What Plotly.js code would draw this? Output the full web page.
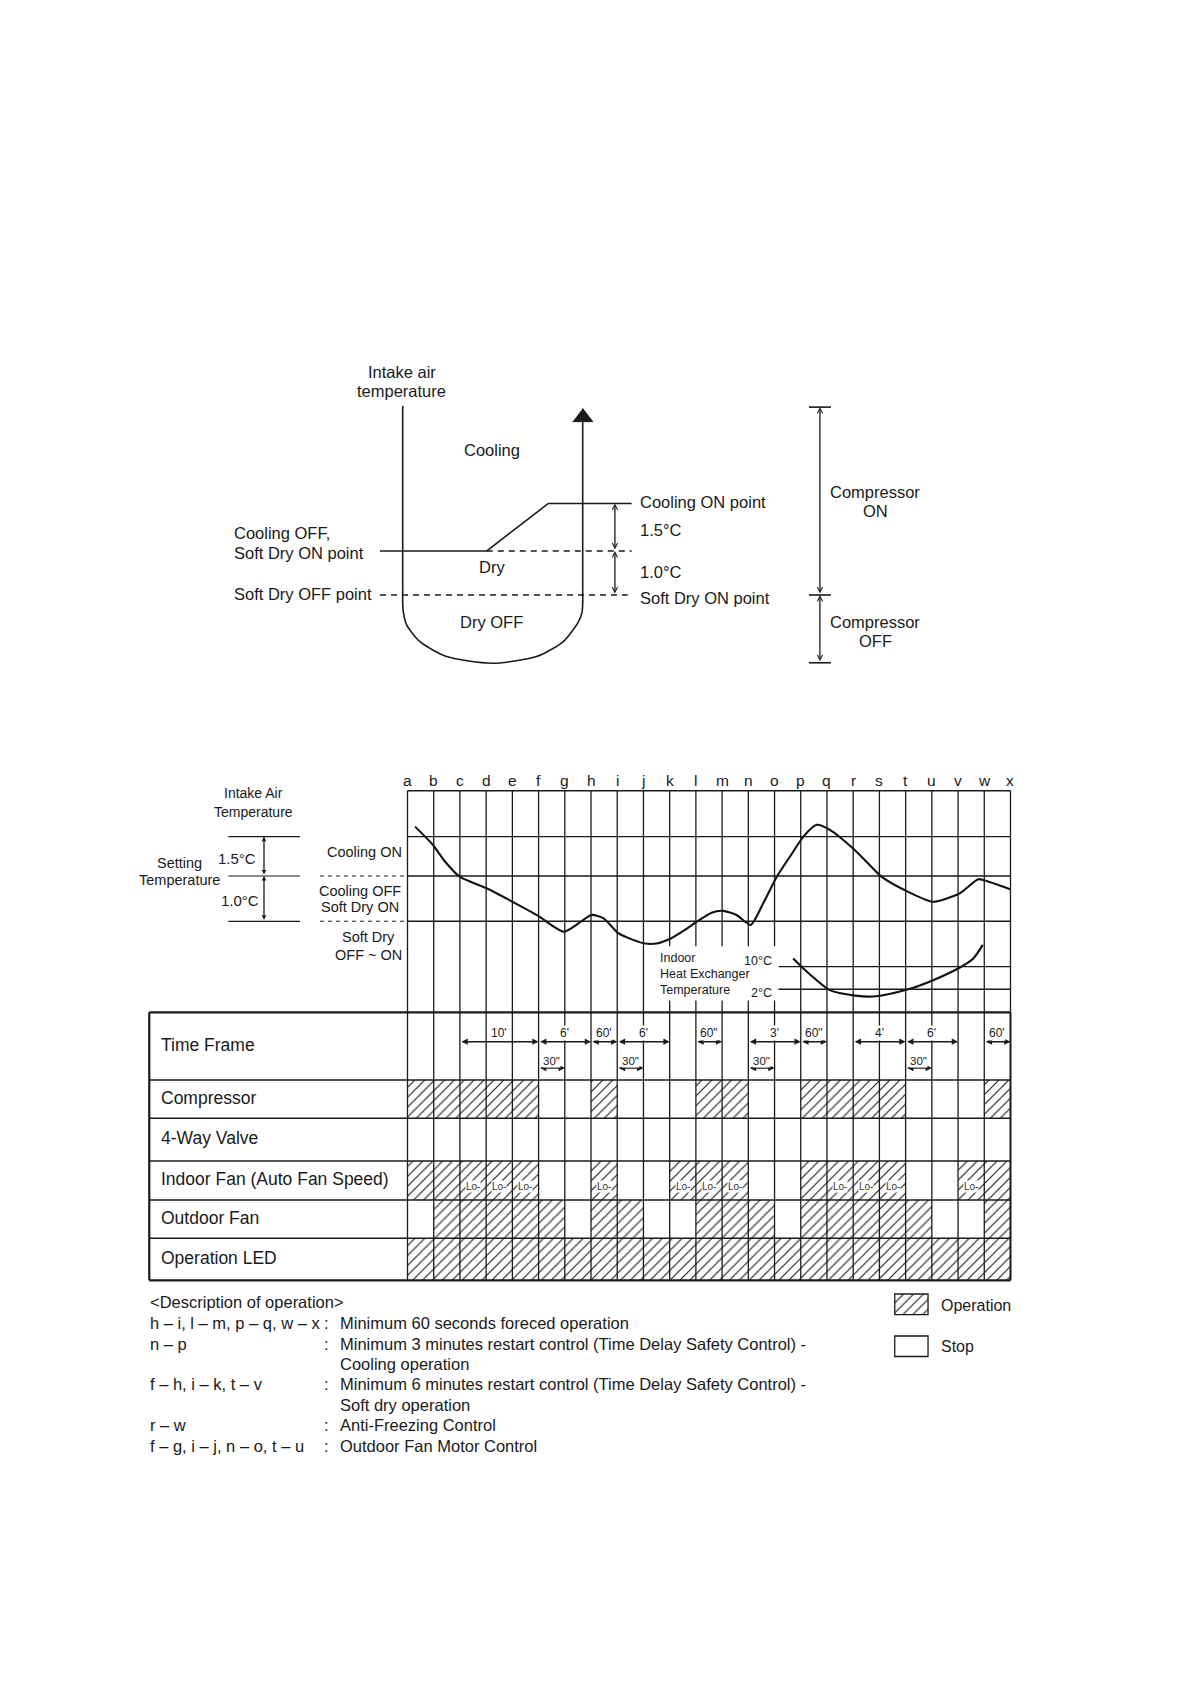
<!DOCTYPE html>
<html><head><meta charset="utf-8">
<script src="https://cdn.plot.ly/plotly-3.0.1.min.js"></script>
<style>html,body{margin:0;padding:0;background:#fff;}#chart{width:1190px;height:1684px;}</style>
</head><body><div id="chart"></div>
<script>
// ================= DATA =================
// --- upper schematic (level units: Soft Dry OFF = 0, Soft Dry ON = 1) ---
const schemeLevelNames  = ['Cooling ON point', 'Soft Dry ON point', 'Soft Dry OFF point'];
const schemeLevelValues = [2.08, 1.0, 0.0];
const schemeRampX = [-0.126, 0.467, 0.809, 1.272];      // Cooling OFF -> ramp -> Cooling ON
const schemeRampY = [1.0, 1.0, 2.08, 2.08];
const schemeAxisTop = [4.30, 3.94];                      // left axis top, right axis (arrow base)
const schemeBowlX = [0, 0, 0.004, 0.022, 0.096, 0.244, 0.494, 0.744, 0.892, 0.976, 0.996, 1.0, 1.0];
const schemeBowlY = [0.10, -0.18, -0.40, -0.68, -1.06, -1.40, -1.55, -1.40, -1.06, -0.61, -0.40, -0.19, 0.10];
const schemeArrowX = [0.944, 1.056, 1.0];
const schemeArrowY = [3.94, 3.94, 4.24];
const compressorSpan = [4.27, 0.0, -1.54];   // top, switch point, bottom

// --- lower time chart ---
const timeLetters = ['a','b','c','d','e','f','g','h','i','j','k','l','m','n','o','p','q','r','s','t','u','v','w','x'];
const levelValues = [1.87, 1.0, 0.0];       // Cooling ON, Cooling OFF/Soft Dry ON, Soft Dry OFF
const levelDiffs  = ['1.5°C', '1.0°C'];
const intakeX = [0.29,0.98,1.43,2.0,3.02,4.01,4.99,5.97,7.02,7.47,8.04,8.61,9.06,9.50,10.04,10.58,11.03,11.60,12.04,12.55,13.09,13.57,14.08,14.59,15.10,15.61,16.11,17.07,18.09,19.10,20.05,21.07,21.77,22.03,22.98];
const intakeY = [2.09,1.68,1.32,0.98,0.73,0.43,0.12,-0.23,0.14,0.07,-0.26,-0.41,-0.49,-0.49,-0.38,-0.19,-0.01,0.19,0.23,0.14,-0.08,0.40,0.98,1.43,1.87,2.13,2.02,1.57,0.98,0.65,0.43,0.62,0.93,0.90,0.71];
const hexX = [14.71,15.10,15.61,16.11,17.07,17.77,19.10,20.05,21.07,21.58,21.94];
const hexY = [-0.82,-1.04,-1.30,-1.52,-1.64,-1.66,-1.50,-1.30,-1.02,-0.82,-0.52];
const hexLevelValues = [-1.0, -1.5];
const hexLevelLabels = ['10°C', '2°C'];
const hexLevelStart = 14.15;

// --- table (1 = operation, 0 = stop), intervals a-b ... w-x ---
const rowNames = ['Time Frame','Compressor','4-Way Valve','Indoor Fan (Auto Fan Speed)','Outdoor Fan','Operation LED'];
const compressorState = [1,1,1,1,1,0,0,1,0,0,0,1,1,0,0,1,1,1,1,0,0,0,1];
const fourWayState    = [0,0,0,0,0,0,0,0,0,0,0,0,0,0,0,0,0,0,0,0,0,0,0];
const indoorFanState  = [1,1,1,1,1,0,0,1,0,0,1,1,1,0,0,1,1,1,1,0,0,1,1];
const indoorFanLo     = [0,0,1,1,1,0,0,1,0,0,1,1,1,0,0,0,1,1,1,0,0,1,0];
const outdoorFanState = [0,1,1,1,1,1,0,1,1,0,0,1,1,1,0,1,1,1,1,1,0,0,1];
const ledState        = [1,1,1,1,1,1,1,1,1,1,1,1,1,1,1,1,1,1,1,1,1,1,1];
const spanStart = [2, 5, 7, 8, 11, 13, 15, 17, 19, 22];
const spanEnd   = [5, 7, 8, 10, 12, 15, 16, 19, 21, 23];
const spanLabel = ["10'", "6'", "60'", "6'", '60"', "3'", '60"', "4'", "6'", "60'"];
const fanStart = [5, 8, 13, 19];
const fanEnd   = [6, 9, 14, 20];
const fanLabel = ['30"', '30"', '30"', '30"'];

// --- description ---
const descKeys = ['h – i, l – m, p – q, w – x', 'n – p', '', 'f – h, i – k, t – v', '', 'r – w', 'f – g, i – j, n – o, t – u'];
const descTexts = ['Minimum 60 seconds foreced operation',
  'Minimum 3 minutes restart control (Time Delay Safety Control) -', 'Cooling operation',
  'Minimum 6 minutes restart control (Time Delay Safety Control) -', 'Soft dry operation',
  'Anti-Freezing Control', 'Outdoor Fan Motor Control'];
const legendNames = ['Operation', 'Stop'];

// ================= LAYOUT HELPERS =================
const W = 1190, H = 1684;
const FONT = 'Liberation Sans, Arial, Helvetica, sans-serif';
const INK = '#1a1a1a';
const TOP = {x0: 402.7, xPer: 180, y0: 595, yPer: 44};
const BOT = {x0: 407.5, xPer: 26.217, y0: 921.3, yPer: 45.3};
const TAB = {y0: 1280.3, yPer: 1};
const xr = m => [-m.x0 / m.xPer, (W - m.x0) / m.xPer];
const yr = (y0, per) => [(y0 - H) / per, y0 / per];
const rowEdges = [268, 200.3, 162, 119.3, 80.3, 42, 0];   // table row edges (top -> bottom)
const tableLeft = -9.85;
const gridTop = 2.883, gridBottom = -2.009;

const shapes = [];
const ann = [];
function seg(xref, yref, x0, y0, x1, y1, w, dash) {
  shapes.push({type: 'line', xref, yref, x0, y0, x1, y1, layer: 'above',
    line: {color: INK, width: w || 1.3, dash: dash || 'solid'}});
}
function txt(text, px, py, size, xanchor, extra) {
  ann.push(Object.assign({text, xref: 'paper', yref: 'paper', x: px / W, y: 1 - py / H,
    xanchor: xanchor || 'center', yanchor: 'middle', showarrow: false,
    font: {family: FONT, size: size, color: INK}}, extra || {}));
}
function arrow2(xref, yref, x, y0, y1, head, size) {
  ann.push({xref, yref, axref: xref, ayref: yref, x: x, y: y1, ax: x, ay: y0, text: '',
    showarrow: true, arrowside: 'end+start', arrowhead: head, startarrowhead: head,
    arrowsize: size, startarrowsize: size, arrowwidth: 1.3, arrowcolor: INK, standoff: 0, startstandoff: 0});
}
function harrow(x0, x1, y) {
  ann.push({xref: 'x2', yref: 'y3', axref: 'x2', ayref: 'y3', x: x1, y: y, ax: x0, ay: y, text: '',
    showarrow: true, arrowside: 'end+start', arrowhead: 2, startarrowhead: 2,
    arrowsize: 0.9, startarrowsize: 0.9, arrowwidth: 1.4, arrowcolor: INK, standoff: 0, startstandoff: 0});
}

// ================= TRACES =================
const traces = [];
// upper schematic: straight axes + rounded bowl
traces.push({x: [schemeBowlX[0], schemeBowlX[0], null, schemeBowlX[schemeBowlX.length - 1], schemeBowlX[schemeBowlX.length - 1]],
  y: [schemeAxisTop[0], schemeBowlY[0], null, schemeBowlY[schemeBowlY.length - 1], schemeAxisTop[1]],
  xaxis: 'x', yaxis: 'y', mode: 'lines', line: {color: INK, width: 1.6}, hoverinfo: 'skip'});
traces.push({x: schemeBowlX, y: schemeBowlY, xaxis: 'x', yaxis: 'y', mode: 'lines',
  line: {color: INK, width: 1.6, shape: 'spline', smoothing: 0.7}, hoverinfo: 'skip'});
traces.push({x: schemeArrowX, y: schemeArrowY, xaxis: 'x', yaxis: 'y', mode: 'lines', fill: 'toself',
  fillcolor: INK, line: {color: INK, width: 1}, hoverinfo: 'skip'});
traces.push({x: schemeRampX, y: schemeRampY, xaxis: 'x', yaxis: 'y', mode: 'lines',
  line: {color: INK, width: 1.6}, hoverinfo: 'skip'});
traces.push({x: [schemeRampX[1], schemeRampX[3], null, schemeRampX[0], 1.25],
  y: [schemeLevelValues[1], schemeLevelValues[1], null, schemeLevelValues[2], schemeLevelValues[2]],
  xaxis: 'x', yaxis: 'y', mode: 'lines', line: {color: INK, width: 1.4, dash: '6px,5px'}, hoverinfo: 'skip'});

// lower chart curves
traces.push({x: intakeX, y: intakeY, xaxis: 'x2', yaxis: 'y2', mode: 'lines',
  line: {color: '#111', width: 2.1, shape: 'spline', smoothing: 0.6}, hoverinfo: 'skip'});
traces.push({x: hexX, y: hexY, xaxis: 'x2', yaxis: 'y2', mode: 'lines',
  line: {color: '#111', width: 2.1, shape: 'spline', smoothing: 0.8}, hoverinfo: 'skip'});

// table rows (hatched = operation)
const rowStates = [null, compressorState, fourWayState, indoorFanState, outdoorFanState, ledState];
const hatch = {shape: '/', fgcolor: '#222', bgcolor: 'white', size: 7, solidity: 0.17};
rowStates.forEach((st, r) => {
  if (!st) return;
  const xs = [], ys = [];
  st.forEach((v, i) => { if (v) { xs.push(i + 0.5); ys.push(rowEdges[r] - rowEdges[r + 1]); } });
  if (!xs.length) return;
  traces.push({type: 'bar', x: xs, y: ys, base: rowEdges[r + 1], width: 1, xaxis: 'x2', yaxis: 'y3',
    marker: {color: 'white', line: {width: 0}, pattern: hatch}, hoverinfo: 'skip'});
});
// legend boxes
traces.push({type: 'bar', x: [19.22], y: [20.6], base: -34.3, width: 1.27, xaxis: 'x2', yaxis: 'y3',
  marker: {color: 'white', line: {width: 1.3, color: INK}, pattern: hatch}, hoverinfo: 'skip'});
traces.push({type: 'bar', x: [19.22], y: [20.5], base: -76.2, width: 1.27, xaxis: 'x2', yaxis: 'y3',
  marker: {color: 'white', line: {width: 1.3, color: INK}}, hoverinfo: 'skip'});

// ================= SHAPES =================
// upper schematic: compressor span
const cx = 2.318;
compressorSpan.forEach(v => seg('x', 'y', cx - 0.061, v, cx + 0.061, v, 1.6));
arrow2('x', 'y', cx, compressorSpan[1], compressorSpan[0], 5, 0.8);
arrow2('x', 'y', cx, compressorSpan[2], compressorSpan[1], 5, 0.8);
// bracket arrows
arrow2('x', 'y', 1.179, schemeLevelValues[1], schemeLevelValues[0], 5, 0.8);
arrow2('x', 'y', 1.179, schemeLevelValues[2], schemeLevelValues[1], 5, 0.8);

// lower chart grid
seg('x2', 'y2', 0, gridTop, 23, gridTop, 1.5);
levelValues.forEach(v => seg('x2', 'y2', 0, v, 23, v, 1.4));
for (let i = 0; i <= 23; i++) seg('x2', 'y2', i, gridBottom, i, gridTop, 1.3);
// left legend of levels
levelValues.forEach(v => seg('x2', 'y2', -6.835, v, -4.10, v, 1.2));
levelValues.slice(1).forEach(v => seg('x2', 'y2', -3.337, v, 0, v, 1.1, '4px,4px'));
arrow2('x2', 'y2', -5.474, levelValues[1], levelValues[0], 2, 0.7);
arrow2('x2', 'y2', -5.474, levelValues[2], levelValues[1], 2, 0.7);
// white box behind the heat exchanger caption
shapes.push({type: 'rect', xref: 'x2', yref: 'y2', x0: 9.25, x1: 14.48, y0: -0.55, y1: -1.75,
  fillcolor: 'white', line: {width: 0}, layer: 'above'});
hexLevelValues.forEach(v => seg('x2', 'y2', hexLevelStart, v, 23, v, 1.4));

// table grid
rowEdges.forEach((e, k) => seg('x2', 'y3', tableLeft, e, 23, e, (k === 0 || k === rowEdges.length - 1) ? 2.2 : 1.6));
seg('x2', 'y3', tableLeft, 0, tableLeft, 268, 2.2);
for (let i = 0; i <= 23; i++) seg('x2', 'y3', i, 0, i, 268, i === 23 ? 2 : 1.3);

// time frame arrows
spanStart.forEach((s, k) => harrow(s, spanEnd[k], 238.6));
fanStart.forEach((s, k) => harrow(s, fanEnd[k], 212.3));

// ================= TEXT =================
// upper schematic
txt('Intake air', 401.7, 372.3, 16.5);
txt('temperature', 401.7, 390.7, 16.5);
txt('Cooling', 491.7, 450, 16.5);
txt('Cooling OFF,', 231.7, 533.3, 16.5, 'left');
txt('Soft Dry ON point', 231.7, 552.7, 16.5, 'left');
txt('Soft Dry OFF point', 231.7, 594.3, 16.5, 'left');
txt('Dry', 491.7, 567.3, 16.5);
txt('Dry OFF', 491.7, 621.7, 16.5);
txt('Cooling ON point', 637.5, 502.3, 16.5, 'left');
txt('1.5°C', 637.5, 530, 16.5, 'left');
txt('1.0°C', 637.5, 572.3, 16.5, 'left');
txt('Soft Dry ON point', 637.5, 597.7, 16.5, 'left');
txt('Compressor', 875, 491.7, 16.5);
txt('ON', 875, 510.7, 16.5);
txt('Compressor', 875, 622.3, 16.5);
txt('OFF', 875, 641, 16.5);

// lower chart captions
txt('Intake Air', 253.3, 793.3, 14);
txt('Temperature', 253.3, 811.7, 14);
txt('Setting', 179.5, 862.7, 14.5);
txt('Temperature', 179.5, 880, 14.5);
txt(levelDiffs[0], 237.2, 858.3, 15);
txt(levelDiffs[1], 240, 900.7, 15);
txt('Cooling ON', 364, 851.7, 14.5);
txt('Cooling OFF', 360.3, 891, 14.5);
txt('Soft Dry ON', 360.3, 907.3, 14.5);
txt('Soft Dry', 368.5, 937.3, 14.5);
txt('OFF ~ ON', 368.5, 955, 14.5);
txt('Indoor', 658, 958.3, 12.5, 'left');
txt('Heat Exchanger', 658, 974, 12.5, 'left');
txt('Temperature', 658, 989.8, 12.5, 'left');
txt(hexLevelLabels[0], 774, 961, 12.5, 'right');
txt(hexLevelLabels[1], 774, 993, 12.5, 'right');
timeLetters.forEach((l, i) => ann.push({text: l, xref: 'x2', yref: 'paper', x: i, y: 1 - 780 / H,
  xanchor: 'center', yanchor: 'middle', showarrow: false, font: {family: FONT, size: 15.5, color: INK}}));

// table labels
rowNames.forEach((n, r) => txt(n, 158.5, TAB.y0 - (rowEdges[r] + rowEdges[r + 1]) / 2 - 1.5, 17.5, 'left'));
spanStart.forEach((s, k) => ann.push({text: spanLabel[k], xref: 'x2', yref: 'y3', x: (s + spanEnd[k]) / 2, y: 247.6,
  showarrow: false, bgcolor: 'white', borderpad: 0, font: {family: FONT, size: 12, color: INK}}));
fanStart.forEach((s, k) => ann.push({text: fanLabel[k], xref: 'x2', yref: 'y3', x: (s + fanEnd[k]) / 2, y: 219.6,
  showarrow: false, bgcolor: 'white', borderpad: 0, font: {family: FONT, size: 11.5, color: INK}}));
indoorFanLo.forEach((v, i) => { if (v) ann.push({text: 'Lo-', xref: 'x2', yref: 'y3', x: i + 0.5, y: 94,
  showarrow: false, bgcolor: 'white', borderpad: 0, font: {family: FONT, size: 10, color: '#333'}}); });

// description
txt('<Description of operation>', 147.5, 1301.7, 16.5, 'left');
const descY0 = 1323.3, descStep = 20.38;
descTexts.forEach((t, k) => {
  const y = descY0 + k * descStep;
  if (descKeys[k]) { txt(descKeys[k], 147.5, y, 16.5, 'left'); txt(':', 326.5, y, 16.5, 'center'); }
  txt(t, 337.5, y, 16.5, 'left');
});
txt(legendNames[0], 939, 1305, 16, 'left');
txt(legendNames[1], 939, 1346.8, 16, 'left');

// ================= LAYOUT =================
const ax = (range, extra) => Object.assign({range, visible: false, fixedrange: true, showgrid: false, zeroline: false}, extra || {});
const layout = {
  width: W, height: H, margin: {l: 0, r: 0, t: 0, b: 0, pad: 0},
  paper_bgcolor: 'white', plot_bgcolor: 'rgba(0,0,0,0)', showlegend: false, barmode: 'overlay',
  xaxis: ax(xr(TOP), {domain: [0, 1]}),
  yaxis: ax(yr(TOP.y0, TOP.yPer), {domain: [0, 1]}),
  xaxis2: ax(xr(BOT), {overlaying: 'x'}),
  yaxis2: ax(yr(BOT.y0, BOT.yPer), {overlaying: 'y'}),
  yaxis3: ax(yr(TAB.y0, TAB.yPer), {overlaying: 'y'}),
  shapes: shapes, annotations: ann,
  font: {family: FONT, color: INK}
};
Plotly.newPlot('chart', traces, layout, {staticPlot: true, displayModeBar: false});
</script></body></html>
